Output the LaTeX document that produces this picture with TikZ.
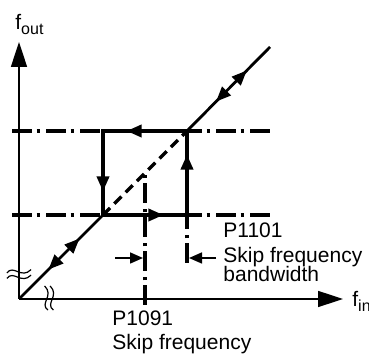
\documentclass[tikz,border=0pt]{standalone}
\usepackage{fontspec}
\setmainfont{Liberation Sans}
\usetikzlibrary{arrows.meta, positioning, decorations.markings}
\newcommand{\lowTxt}[1]{\raisebox{-2.5pt}{\fontsize{8}{8}\selectfont #1}}
\tikzset{
    x=0.5pt, y=-0.5pt, % 1 像素 = 0.5pt，y 向下
    font=\fontsize{10.5}{12}\selectfont,
    %
    % 文字
    lbl/.style={inner sep=0pt, anchor=base west},
    %
    % 线型
    axisLine/.style={line width=0.8pt, -{Triangle[length=12.5pt, width=8pt]}},
    diagLine/.style={line width=1.4pt},
    loopLine/.style={line width=1.7pt, line cap=rect},
    guideDash/.style={line width=1.6pt, dash pattern=on 5pt off 3pt},
    skipLine/.style={line width=2pt, dash pattern=on 10pt off 2.25pt on 1.5pt off 3.25pt},
    bwArrow/.style={line width=0.8pt, -{Triangle[length=6.5pt, width=5.5pt]}},
    %
    % 线上箭头
    midArrow/.style={postaction={decorate}, decoration={markings,
        mark=at position #1 with {\arrow{Triangle[length=7.5pt, width=6pt]}}}},
    biArrows/.style={postaction={decorate}, decoration={markings,
        mark=at position 0.35 with {\arrowreversed{Triangle[length=7.5pt, width=6pt]}},
        mark=at position 0.72 with {\arrow{Triangle[length=7.5pt, width=6pt]}}}},
    %
    % 印章：断轴符号
    breakMark/.pic={
        \begin{scope}[line width=0.6pt, scale=1.1]
            \draw (-11,-1) .. controls (-5,-9) and (2,5) .. (11,-4);  % 上波
            \draw (-11,4) .. controls (-5,-4) and (2,10) .. (11,1);   % 下波
        \end{scope}
    }
}

\begin{document}
\begin{tikzpicture}

	\useasboundingbox (0,0) rectangle (369,356);

	%% 关键点
	\coordinate (o) at (19,299);
	\coordinate (yEnd) at (19,42);
	\coordinate (xEnd) at (343,299);
	\coordinate (top) at (270,47);
	\coordinate (lo) at (103,215);
	\coordinate (hi) at (187,131);
	\coordinate (loR) at (187,215);
	\coordinate (hiL) at (103,131);

	%% 点划线
	\draw[skipLine] (12,131) -- (270,131);
	\draw[skipLine] (12,215) -- (270,215);
	\draw[skipLine] (145,305) -- (145,173);
	\draw[skipLine] (187,263) -- (187,215);

	%% 坐标轴
	\draw[axisLine] (o) -- (yEnd);
	\draw[axisLine] (o) -- (xEnd);
	\pic at (19,274) {breakMark};
	\pic[rotate=90] at (49,298) {breakMark};

	%% 对角线
	\draw[guideDash] (lo) -- (hi);
	\draw[diagLine, biArrows] (o) -- (lo);
	\draw[diagLine, biArrows] (hi) -- (top);

	%% 跳频回线
	\draw[loopLine, midArrow=0.72] (hi) -- (hiL);
	\draw[loopLine, midArrow=0.72] (hiL) -- (lo);
	\draw[loopLine, midArrow=0.72] (lo) -- (loR);
	\draw[loopLine, midArrow=0.72] (loR) -- (hi);

	%% 带宽箭头
	\coordinate (bwL) at (115,258);
	\coordinate (bwLtip) at (143,258);
	\coordinate (bwR) at (216,258);
	\coordinate (bwRtip) at (189,258);
	\draw[bwArrow] (bwL) -- (bwLtip);
	\draw[bwArrow] (bwR) -- (bwRtip);

	%% 文字
	\node (fout) [lbl] at (15,30) {f\lowTxt{out}};
	\node (fin) [lbl] at (352,307) {f\lowTxt{in}};
	\node (p1101) [lbl] at (223,238) {P1101};
	\node (skipBw) [lbl] at ([yshift=-12.5pt]p1101.base west) {Skip frequency};
	\node (bw) [lbl] at ([yshift=-9.5pt]skipBw.base west) {bandwidth};
	\node (p1091) [lbl] at (112,326) {P1091};
	\node (skipFq) [lbl] at ([yshift=-12pt]p1091.base west) {Skip frequency};

\end{tikzpicture}
\end{document}
